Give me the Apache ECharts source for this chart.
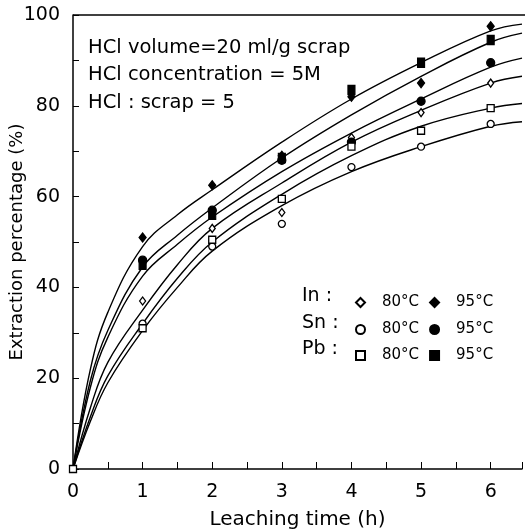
<!DOCTYPE html>
<html>
<head>
<meta charset="utf-8">
<script src="https://cdn.jsdelivr.net/npm/echarts@6/dist/echarts.min.js"></script>
<style>
html,body{margin:0;padding:0;background:#fff;}
#chart{width:525px;height:531px;}
</style>
</head>
<body>
<div id="chart"></div>
<script>
// fitted curves
var curveX = [0, 0.25, 0.5, 1, 1.5, 2, 3, 4, 5, 6, 6.45];
var curveIn95 = [0, 22, 34.5, 49, 56, 61.5, 72, 81.5, 89.5, 96.5, 98];
var curvePb95 = [0, 19.5, 30.5, 44.5, 51.5, 57.5, 68.5, 78, 86.5, 94, 96];
var curveSn95 = [0, 18, 29, 42.5, 49.5, 55.5, 65.5, 74, 81.5, 88.5, 90.5];
var curveIn80 = [0, 13.5, 23.5, 35, 45, 53, 63, 72, 79, 85, 86.5];
var curvePb80 = [0, 11.5, 20.5, 32, 42, 50, 60.5, 69, 75.5, 79.5, 80.5];
var curveSn80 = [0, 10.5, 19, 30.5, 40, 48, 58, 65.5, 71, 75.5, 76.5];

// measured points
var timeX = [1, 2, 3, 4, 5, 6];
var in80 = [37, 53, 56.5, 73, 78.5, 85];
var in95 = [51, 62.5, 69, 82, 85, 97.5];
var sn80 = [32, 49, 54, 66.5, 71, 76];
var sn95 = [46, 57, 68, 72, 81, 89.5];
var pb80 = [31, 50.5, 59.5, 71, 74.5, 79.5];
var pb95 = [45, 56, 68.5, 83.5, 89.5, 94.5];
var originX = [0];
var originPb80 = [0];

var xTicks = [0, 1, 2, 3, 4, 5, 6];
var yTicks = [0, 20, 40, 60, 80, 100];

function pairs(xs, ys){
	var out = [];
	for(var i=0;i<xs.length;i++){
		out.push([xs[i], ys[i]]);
	}
	return out;
}

function curve(data){
	return {
		type:'line',
		data:pairs(curveX, data),
		smooth:0.4,
		symbol:'none',
		silent:true,
		lineStyle:{color:'#000', width:1.4},
		z:2
	};
}

function marks(name, data, symbol, size, filled){
	return {
		name:name,
		type:'scatter',
		data:data,
		symbol:symbol,
		symbolSize:size,
		itemStyle:{
			color: filled ? '#000' : '#fff',
			borderColor:'#000',
			borderWidth:1.3,
			opacity:1
		},
		z:3
	};
}

var font = 'DejaVu Sans';
var chart = echarts.init(document.getElementById('chart'));
var legendBase = {
	orient:'horizontal',
	left:350,
	itemWidth:9,
	itemHeight:9,
	itemGap:10,
	selectedMode:false,
	formatter:function(n){ return n.split(' ')[1]; },
	textStyle:{fontFamily:font, fontSize:15, color:'#000', padding:[0,0,0,12]}
};

var option = {
	animation:false,
	backgroundColor:'#fff',
	grid:{left:73, right:3, top:15, bottom:62, outerBoundsMode:'none', containLabel:false},
	xAxis:{
		type:'value',
		min:0,
		max:6.45,
		interval:1,
		name:'Leaching time (h)',
		nameLocation:'middle',
		nameGap:41,
		nameMoveOverlap:false,
		nameTextStyle:{fontFamily:font, fontSize:20, color:'#000'},
		axisLine:{lineStyle:{color:'#000', width:1.5}},
		axisTick:{inside:true, length:7, lineStyle:{color:'#000'}},
		minorTick:{show:true, splitNumber:2, length:7, lineStyle:{color:'#000'}},
		axisLabel:{fontFamily:font, fontSize:19, color:'#000', margin:14,
			formatter:function(v){ return xTicks.indexOf(v) >= 0 ? v : ''; }},
		splitLine:{show:false}
	},
	yAxis:{
		type:'value',
		min:0,
		max:100,
		interval:20,
		name:'Extraction percentage (%)',
		nameLocation:'middle',
		nameGap:47,
		nameMoveOverlap:false,
		nameTextStyle:{fontFamily:font, fontSize:18, color:'#000'},
		axisLine:{show:true, lineStyle:{color:'#000', width:1.5}},
		axisTick:{inside:true, length:6, lineStyle:{color:'#000'}},
		minorTick:{show:true, splitNumber:2, length:6, lineStyle:{color:'#000'}},
		axisLabel:{fontFamily:font, fontSize:19, color:'#000', margin:13,
			formatter:function(v){ return yTicks.indexOf(v) >= 0 ? v : ''; }},
		splitLine:{show:false}
	},
	legend:[
		Object.assign({}, legendBase, {top:290, data:['In 80°C', 'In 95°C']}),
		Object.assign({}, legendBase, {top:317, data:['Sn 80°C', 'Sn 95°C']}),
		Object.assign({}, legendBase, {top:343, data:['Pb 80°C', 'Pb 95°C']})
	],
	graphic:[
		{type:'text', left:88, top:38, style:{text:'HCl volume=20 ml/g scrap', font:'19.5px "DejaVu Sans"', fill:'#000'}},
		{type:'text', left:88, top:65, style:{text:'HCl concentration = 5M', font:'19.5px "DejaVu Sans"', fill:'#000'}},
		{type:'text', left:88, top:93, style:{text:'HCl : scrap = 5', font:'19.5px "DejaVu Sans"', fill:'#000'}},
		{type:'text', left:302, top:287, style:{text:'In :', font:'19px "DejaVu Sans"', fill:'#000'}},
		{type:'text', left:302, top:314, style:{text:'Sn :', font:'19px "DejaVu Sans"', fill:'#000'}},
		{type:'text', left:302, top:340, style:{text:'Pb :', font:'19px "DejaVu Sans"', fill:'#000'}},
		{type:'line', shape:{x1:73, y1:15, x2:525, y2:15}, style:{stroke:'#000', lineWidth:1.5}}
	],
	series:[
		curve(curveIn95),
		curve(curvePb95),
		curve(curveSn95),
		curve(curveIn80),
		curve(curvePb80),
		curve(curveSn80),
		marks('In 80°C', pairs(timeX, in80), 'diamond', [6,8], false),
		marks('In 95°C', pairs(timeX, in95), 'diamond', [7,9], true),
		marks('Sn 80°C', pairs(timeX, sn80), 'circle', 7, false),
		marks('Sn 95°C', pairs(timeX, sn95), 'circle', 8, true),
		marks('Pb 80°C', pairs(timeX, pb80).concat(pairs(originX, originPb80)), 'rect', 7, false),
		marks('Pb 95°C', pairs(timeX, pb95), 'rect', [7,9], true)
	]
};
chart.setOption(option);
</script>
</body>
</html>
